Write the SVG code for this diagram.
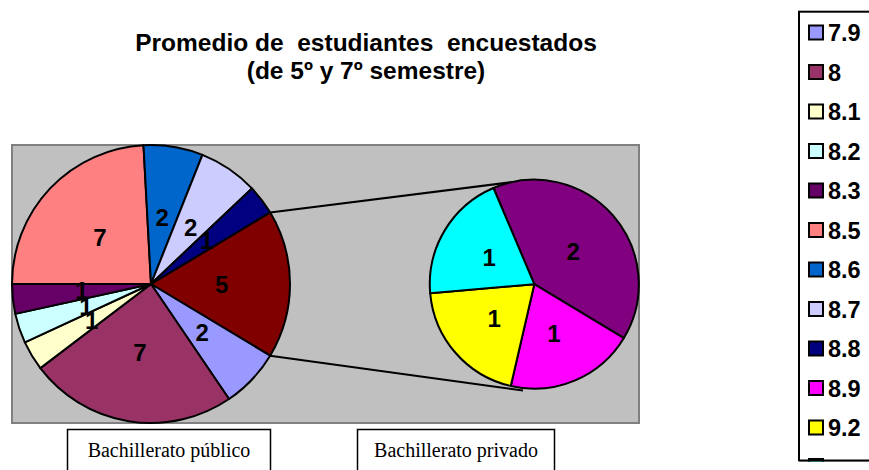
<svg xmlns="http://www.w3.org/2000/svg" width="869" height="470" viewBox="0 0 869 470">
<style>
.t{font-family:"Liberation Sans",Arial,sans-serif;font-weight:bold;fill:#000}
.title{font-size:24.5px;text-anchor:middle}
.lbl{font-size:24px;text-anchor:middle}
.leg{font-size:23.5px}
.s{stroke:#000;stroke-width:2;stroke-linejoin:round}
.sw{stroke:#000;stroke-width:2}
.box{fill:#fff;stroke:#000;stroke-width:1.5}
.cap{font-family:"Liberation Serif","Times New Roman",serif;font-size:20px;text-anchor:middle;fill:#000}
.conn{stroke:#000;stroke-width:2;fill:none}
</style>
<defs>
<clipPath id="legclip"><rect x="790" y="0" width="79" height="461.5"/></clipPath>
</defs>
<rect width="869" height="470" fill="#fff"/>
<g id="title">
<text class="t title" x="366" y="51" xml:space="preserve">Promedio de  estudiantes  encuestados</text>
<text class="t title" x="366" y="79">(de 5º y 7º semestre)</text>
</g>
<g id="plot-area">
<rect x="12" y="145" width="627" height="278" fill="#C0C0C0" stroke="#808080" stroke-width="2"/>
</g>
<g id="connectors">
<line class="conn" x1="270.1" y1="212.4" x2="513" y2="182"/>
<line class="conn" x1="270.1" y1="355.7" x2="523" y2="390.5"/>
</g>
<g id="pie-publico">
<path id="slice-otros" class="s" fill="#800000" d="M151,284 L270.11,212.35 A139,139 0 0 1 270.11,355.65 Z"/>
<path id="slice-7.9" class="s" fill="#9999FF" d="M151,284 L270.11,355.65 A139,139 0 0 1 229.03,399.02 Z"/>
<path id="slice-8" class="s" fill="#993366" d="M151,284 L229.03,399.02 A139,139 0 0 1 40.33,368.11 Z"/>
<path id="slice-8.1" class="s" fill="#FFFFCC" d="M151,284 L40.33,368.11 A139,139 0 0 1 24.84,342.37 Z"/>
<path id="slice-8.2" class="s" fill="#CCFFFF" d="M151,284 L24.84,342.37 A139,139 0 0 1 15.25,313.87 Z"/>
<path id="slice-8.3" class="s" fill="#660066" d="M151,284 L15.25,313.87 A139,139 0 0 1 12,284 Z"/>
<path id="slice-8.5" class="s" fill="#FF8080" d="M151,284 L12,284 A139,139 0 0 1 143.48,145.21 Z"/>
<path id="slice-8.6" class="s" fill="#0066CC" d="M151,284 L143.48,145.21 A139,139 0 0 1 202.44,154.87 Z"/>
<path id="slice-8.7" class="s" fill="#CCCCFF" d="M151,284 L202.44,154.87 A139,139 0 0 1 251.9,188.4 Z"/>
<path id="slice-8.8" class="s" fill="#000080" d="M151,284 L251.9,188.4 A139,139 0 0 1 270.11,212.35 Z"/>
<text class="t lbl" x="100" y="246">7</text>
<text class="t lbl" x="162.3" y="226">2</text>
<text class="t lbl" x="190.7" y="235.5">2</text>
<text class="t lbl" x="206.7" y="248.5">1</text>
<text class="t lbl" x="221.7" y="292.5">5</text>
<text class="t lbl" x="202.3" y="340.5">2</text>
<text class="t lbl" x="140" y="360.5">7</text>
<text class="t lbl" x="81.7" y="298.5">1</text>
<text class="t lbl" x="86" y="314.5">1</text>
<text class="t lbl" x="91.7" y="328.5">1</text>
</g>
<g id="pie-privado">
<path class="s" fill="#800080" d="M534.3,284.2 L493.47,188.01 A104.5,104.5 0 0 1 623.88,338.02 Z"/>
<path class="s" fill="#FF00FF" d="M534.3,284.2 L623.88,338.02 A104.5,104.5 0 0 1 510.79,386.02 Z"/>
<path class="s" fill="#FFFF00" d="M534.3,284.2 L510.79,386.02 A104.5,104.5 0 0 1 430.2,293.31 Z"/>
<path class="s" fill="#00FFFF" d="M534.3,284.2 L430.2,293.31 A104.5,104.5 0 0 1 493.47,188.01 Z"/>
<text class="t lbl" x="573.3" y="259.5">2</text>
<text class="t lbl" x="489.3" y="266">1</text>
<text class="t lbl" x="494.3" y="327">1</text>
<text class="t lbl" x="554" y="341.5">1</text>
</g>
<g id="label-publico">
<rect class="box" x="67.5" y="429.5" width="203" height="50"/>
<text class="cap" x="169" y="457">Bachillerato público</text>
</g>
<g id="label-privado">
<rect class="box" x="357.5" y="429.5" width="197" height="50"/>
<text class="cap" x="456" y="457">Bachillerato privado</text>
</g>
<g id="legend" clip-path="url(#legclip)">
<rect x="799" y="11.7" width="120" height="448.8" fill="#fff" stroke="#000" stroke-width="2"/>
<rect class="sw" x="809" y="25.5" width="14" height="14" fill="#9999FF"/><text class="t leg" x="828" y="41">7.9</text>
<rect class="sw" x="809" y="65" width="14" height="14" fill="#993366"/><text class="t leg" x="828" y="80.5">8</text>
<rect class="sw" x="809" y="104.5" width="14" height="14" fill="#FFFFCC"/><text class="t leg" x="828" y="120">8.1</text>
<rect class="sw" x="809" y="144" width="14" height="14" fill="#CCFFFF"/><text class="t leg" x="828" y="159.5">8.2</text>
<rect class="sw" x="809" y="183.5" width="14" height="14" fill="#660066"/><text class="t leg" x="828" y="199">8.3</text>
<rect class="sw" x="809" y="223" width="14" height="14" fill="#FF8080"/><text class="t leg" x="828" y="238.5">8.5</text>
<rect class="sw" x="809" y="262.5" width="14" height="14" fill="#0066CC"/><text class="t leg" x="828" y="278">8.6</text>
<rect class="sw" x="809" y="302" width="14" height="14" fill="#CCCCFF"/><text class="t leg" x="828" y="317.5">8.7</text>
<rect class="sw" x="809" y="341.5" width="14" height="14" fill="#000080"/><text class="t leg" x="828" y="357">8.8</text>
<rect class="sw" x="809" y="381" width="14" height="14" fill="#FF00FF"/><text class="t leg" x="828" y="396.5">8.9</text>
<rect class="sw" x="809" y="420.5" width="14" height="14" fill="#FFFF00"/><text class="t leg" x="828" y="436">9.2</text>
<rect class="sw" x="809" y="459" width="14" height="14" fill="#00FFFF"/>
<line x1="799" y1="461" x2="869" y2="461" stroke="#000" stroke-width="2"/>
</g>
</svg>
